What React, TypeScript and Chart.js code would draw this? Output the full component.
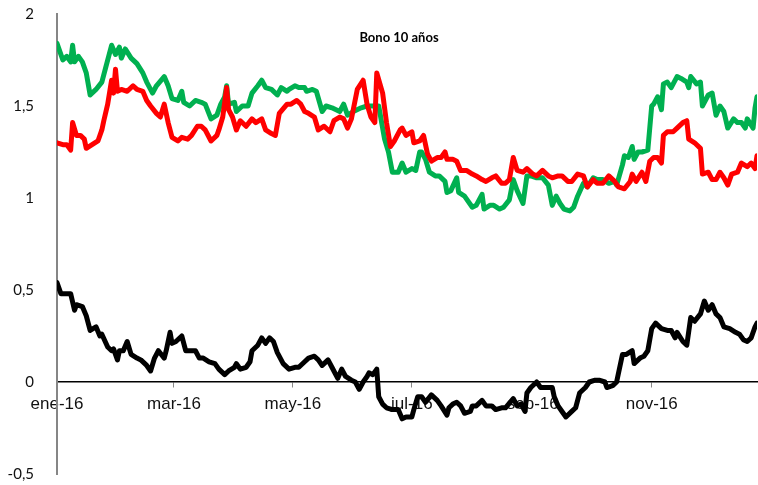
import React, { useEffect, useRef } from "react";
import { Chart, registerables } from "chart.js";

Chart.register(...registerables);

// Title
const chartTitle = "Bono 10 años";

// X axis: day of year 2016 (0 = 1 Jan) where month labels sit
const tickDays = [0, 60, 121, 182, 244, 305];
const tickLabels = ["ene-16", "mar-16", "may-16", "jul-16", "sep-16", "nov-16"];
const lastDay = 359;

// Y axis range
const yMin = -0.5;
const yMax = 2;
const yStep = 0.5;

// Green series (day of year, value)
const greenDays = [
  0, 3, 5, 7, 8, 9, 11, 13, 15, 17,
  20, 23, 25, 28, 30, 32, 33, 35, 38, 41,
  44, 46, 49, 51, 55, 57, 59, 62, 64, 65,
  68, 71, 74, 76, 79, 82, 84, 86, 87, 88,
  91, 92, 95, 98, 100, 103, 105, 107, 110, 113,
  115, 118, 119, 122, 124, 127, 128, 131, 133, 136,
  138, 141, 145, 147, 149, 152, 156, 159, 161, 165,
  168, 170, 172, 175, 177, 179, 182, 184, 186, 187,
  189, 191, 194, 196, 199, 200, 202, 205, 206, 209,
  213, 215, 218, 219, 222, 224, 227, 229, 232, 234,
  236, 239, 241, 243, 246, 249, 252, 254, 256, 258,
  260, 263, 265, 267, 270, 272, 275, 277, 280, 283,
  286, 287, 290, 291, 293, 295, 296, 298, 300, 303,
  305, 306, 308, 310, 311, 313, 315, 318, 320, 323,
  324, 325, 328, 330, 331, 334, 336, 338, 340, 342,
  344, 347, 349, 351, 353, 354, 357, 358, 359,
];
const greenValues = [
  1.84, 1.75, 1.77, 1.74, 1.83, 1.74, 1.77, 1.74, 1.68, 1.56,
  1.59, 1.63, 1.71, 1.83, 1.78, 1.82, 1.76, 1.81, 1.76, 1.73,
  1.68, 1.63, 1.57, 1.61, 1.66, 1.61, 1.54, 1.53, 1.58, 1.52,
  1.50, 1.53, 1.52, 1.51, 1.43, 1.45, 1.51, 1.55, 1.61, 1.51,
  1.52, 1.47, 1.50, 1.50, 1.57, 1.61, 1.64, 1.60, 1.59, 1.56,
  1.60, 1.58, 1.59, 1.61, 1.60, 1.60, 1.58, 1.59, 1.58, 1.47,
  1.50, 1.49, 1.47, 1.51, 1.45, 1.47, 1.49, 1.50, 1.50, 1.50,
  1.32, 1.25, 1.14, 1.14, 1.19, 1.14, 1.16, 1.15, 1.25, 1.25,
  1.21, 1.14, 1.12, 1.12, 1.09, 1.03, 1.04, 1.11, 1.03, 1.01,
  0.95, 0.96, 1.02, 0.94, 0.96, 0.96, 0.94, 0.95, 0.99, 1.10,
  1.04, 0.97, 1.12, 1.12, 1.11, 1.11, 1.07, 0.96, 1.01, 0.97,
  0.94, 0.93, 0.95, 1.01, 1.08, 1.06, 1.11, 1.10, 1.10, 1.08,
  1.09, 1.07, 1.18, 1.23, 1.22, 1.28, 1.21, 1.25, 1.25, 1.26,
  1.50, 1.51, 1.55, 1.48, 1.62, 1.63, 1.60, 1.66, 1.65, 1.63,
  1.60, 1.66, 1.62, 1.63, 1.50, 1.56, 1.57, 1.45, 1.50, 1.47,
  1.38, 1.43, 1.41, 1.41, 1.38, 1.43, 1.38, 1.49, 1.55,
];

// Red series
const redDays = [
  0, 3, 5, 7, 8, 10, 12, 14, 15, 18,
  21, 23, 24, 26, 28, 29, 30, 31, 33, 36,
  39, 41, 44, 46, 48, 51, 53, 55, 57, 59,
  62, 64, 67, 69, 72, 74, 76, 79, 82, 83,
  85, 87, 88, 90, 92, 94, 97, 100, 102, 105,
  107, 110, 112, 114, 118, 120, 123, 125, 127, 129,
  132, 134, 137, 140, 142, 145, 147, 149, 151, 154,
  157, 159, 161, 163, 164, 167, 169, 171, 173, 176,
  177, 179, 182, 183, 186, 188, 190, 192, 195, 197,
  199, 200, 203, 205, 207, 210, 213, 215, 218, 220,
  223, 225, 228, 230, 232, 234, 236, 239, 241, 244,
  246, 249, 252, 254, 257, 259, 262, 264, 267, 270,
  272, 275, 277, 280, 283, 286, 288, 291, 294, 295,
  297, 300, 302, 304, 306, 308, 310, 311, 313, 316,
  318, 321, 323, 324, 327, 330, 331, 334, 336, 338,
  340, 342, 344, 346, 349, 351, 354, 356, 358, 359,
];
const redValues = [
  1.30, 1.29, 1.29, 1.26, 1.41, 1.34, 1.34, 1.32, 1.27, 1.29,
  1.31, 1.37, 1.42, 1.51, 1.64, 1.57, 1.70, 1.58, 1.59, 1.58,
  1.61, 1.59, 1.58, 1.53, 1.50, 1.46, 1.44, 1.51, 1.41, 1.33,
  1.31, 1.33, 1.32, 1.34, 1.39, 1.39, 1.37, 1.31, 1.34, 1.37,
  1.44, 1.60, 1.48, 1.44, 1.37, 1.42, 1.39, 1.43, 1.41, 1.43,
  1.37, 1.35, 1.34, 1.46, 1.51, 1.51, 1.53, 1.51, 1.47, 1.46,
  1.44, 1.37, 1.39, 1.36, 1.42, 1.44, 1.43, 1.38, 1.43, 1.59,
  1.64, 1.51, 1.44, 1.41, 1.68, 1.57, 1.41, 1.28, 1.31, 1.37,
  1.38, 1.34, 1.36, 1.30, 1.31, 1.34, 1.24, 1.20, 1.22, 1.22,
  1.25, 1.21, 1.21, 1.20, 1.15, 1.15, 1.13, 1.12, 1.10, 1.09,
  1.11, 1.12, 1.08, 1.08, 1.10, 1.22, 1.15, 1.14, 1.16, 1.13,
  1.12, 1.15, 1.12, 1.11, 1.12, 1.12, 1.09, 1.09, 1.13, 1.12,
  1.06, 1.10, 1.08, 1.08, 1.12, 1.09, 1.06, 1.05, 1.09, 1.13,
  1.09, 1.14, 1.09, 1.20, 1.22, 1.22, 1.19, 1.34, 1.36, 1.36,
  1.38, 1.41, 1.42, 1.32, 1.30, 1.27, 1.13, 1.14, 1.10, 1.10,
  1.14, 1.11, 1.07, 1.13, 1.14, 1.19, 1.17, 1.19, 1.16, 1.23,
];

// Black series
const blackDays = [
  0, 2, 5, 7, 9, 10, 13, 15, 17, 20,
  22, 23, 26, 28, 29, 31, 32, 34, 36, 38,
  41, 43, 46, 48, 50, 52, 55, 56, 58, 59,
  61, 64, 66, 69, 71, 73, 75, 78, 81, 83,
  86, 88, 91, 92, 94, 97, 99, 100, 103, 105,
  107, 109, 111, 113, 116, 119, 122, 124, 127, 129,
  132, 134, 136, 139, 141, 144, 146, 148, 151, 153,
  155, 157, 159, 160, 162, 164, 165, 167, 169, 172,
  175, 177, 179, 182, 183, 185, 187, 189, 192, 195,
  197, 200, 201, 203, 205, 207, 209, 212, 213, 215,
  218, 220, 223, 225, 228, 230, 234, 236, 238, 240,
  241, 243, 246, 248, 251, 254, 255, 257, 259, 261,
  264, 266, 268, 271, 273, 276, 278, 281, 282, 285,
  287, 290, 292, 295, 296, 299, 301, 303, 305, 307,
  310, 313, 315, 317, 318, 321, 323, 325, 327, 330,
  332, 334, 336, 338, 340, 342, 345, 348, 350, 352,
  354, 356, 358, 359,
];
const blackValues = [
  0.54, 0.48, 0.48, 0.48, 0.39, 0.42, 0.41, 0.36, 0.28, 0.30,
  0.25, 0.26, 0.19, 0.17, 0.18, 0.12, 0.17, 0.17, 0.22, 0.15,
  0.13, 0.12, 0.09, 0.06, 0.13, 0.17, 0.13, 0.17, 0.27, 0.21,
  0.22, 0.25, 0.17, 0.17, 0.17, 0.13, 0.13, 0.11, 0.10, 0.07,
  0.04, 0.06, 0.08, 0.10, 0.07, 0.08, 0.11, 0.17, 0.20, 0.24,
  0.21, 0.24, 0.22, 0.16, 0.10, 0.07, 0.08, 0.08, 0.11, 0.13,
  0.14, 0.12, 0.09, 0.12, 0.08, 0.02, 0.07, 0.03, 0.01, 0.00,
  -0.04, 0.00, 0.03, 0.05, 0.04, 0.07, -0.08, -0.12, -0.14, -0.15,
  -0.15, -0.20, -0.19, -0.19, -0.15, -0.08, -0.08, -0.11, -0.07, -0.10,
  -0.13, -0.18, -0.14, -0.12, -0.11, -0.13, -0.17, -0.16, -0.13, -0.13,
  -0.10, -0.13, -0.13, -0.15, -0.14, -0.14, -0.09, -0.13, -0.12, -0.16,
  -0.06, -0.03, 0.00, -0.03, -0.03, -0.03, -0.08, -0.13, -0.16, -0.19,
  -0.16, -0.14, -0.06, -0.03, 0.00, 0.01, 0.01, 0.00, -0.03, -0.02,
  0.00, 0.15, 0.15, 0.17, 0.10, 0.13, 0.14, 0.17, 0.29, 0.32,
  0.29, 0.28, 0.28, 0.24, 0.27, 0.22, 0.20, 0.35, 0.33, 0.37,
  0.44, 0.39, 0.42, 0.37, 0.35, 0.30, 0.29, 0.27, 0.26, 0.23,
  0.22, 0.24, 0.30, 0.32,
];

const toPoints = (days: number[], values: number[]) =>
  days.map((d, i) => ({ x: d, y: values[i] }));

const innerTitle = {
  id: "innerTitle",
  afterDraw(chart: any) {
    const { ctx, chartArea } = chart;
    ctx.save();
    ctx.font = "bold 13px Lato, 'Noto Sans', sans-serif";
    ctx.fillStyle = "#000";
    ctx.textAlign = "center";
    ctx.textBaseline = "middle";
    ctx.fillText(chartTitle, (chartArea.left + chartArea.right) / 2 - 8, chartArea.top + 24);
    ctx.restore();
  },
};

export default function App() {
  const canvasRef = useRef<HTMLCanvasElement | null>(null);

  useEffect(() => {
    if (!canvasRef.current) return;
    const lineStyle = {
      borderWidth: 5,
      pointRadius: 0,
      tension: 0,
      borderJoinStyle: "round" as const,
      borderCapStyle: "round" as const,
      fill: false,
    };
    const chart = new Chart(canvasRef.current, {
      type: "line",
      data: {
        datasets: [
          { label: "Serie 2", data: toPoints(redDays, redValues), borderColor: "#FF0000", ...lineStyle },
          { label: "Serie 1", data: toPoints(greenDays, greenValues), borderColor: "#00B050", ...lineStyle },
          { label: "Serie 3", data: toPoints(blackDays, blackValues), borderColor: "#000000", ...lineStyle },
        ],
      },
      options: {
        animation: false,
        responsive: true,
        maintainAspectRatio: false,
        layout: { padding: { top: 14, right: 1, bottom: 11, left: 0 } },
        plugins: {
          legend: { display: false },
          tooltip: { enabled: false },
          title: { display: false },
        },
        scales: {
          x: {
            type: "linear",
            position: { y: 0 } as any,
            min: 0,
            max: lastDay,
            afterBuildTicks: (s: any) => {
              s.ticks = tickDays.map((v) => ({ value: v }));
            },
            afterFit: (s: any) => {
              s.paddingTop = 0;
              s.paddingBottom = 0;
              s.paddingLeft = 0;
              s.paddingRight = 0;
            },
            ticks: {
              autoSkip: false,
              maxRotation: 0,
              padding: 7,
              color: "#111",
              font: { family: "'Liberation Sans', Arial, sans-serif", size: 17 },
              callback: (_v: any, i: number) => tickLabels[i],
            },
            grid: { display: true, drawOnChartArea: false, drawTicks: true, tickLength: 5, color: "#888" },
            border: { display: true, color: "#000", width: 1.5 },
          },
          y: {
            min: yMin,
            max: yMax,
            afterFit: (s: any) => {
              s.width = 57;
              s.paddingTop = 0;
              s.paddingBottom = 0;
              s.paddingLeft = 0;
              s.paddingRight = 0;
            },
            ticks: {
              stepSize: yStep,
              padding: 15,
              color: "#111",
              font: { family: "Lato, 'Noto Sans', sans-serif", size: 15 },
              callback: (v: any) => String(v).replace(".", ","),
            },
            grid: { display: false },
            border: { display: true, color: "#868686", width: 2 },
          },
        },
      } as any,
      plugins: [innerTitle],
    });
    return () => chart.destroy();
  }, []);

  return (
    <div style={{ position: "absolute", left: 0, top: 0, width: 758, height: 485, background: "#fff" }}>
      <canvas ref={canvasRef} />
    </div>
  );
}
